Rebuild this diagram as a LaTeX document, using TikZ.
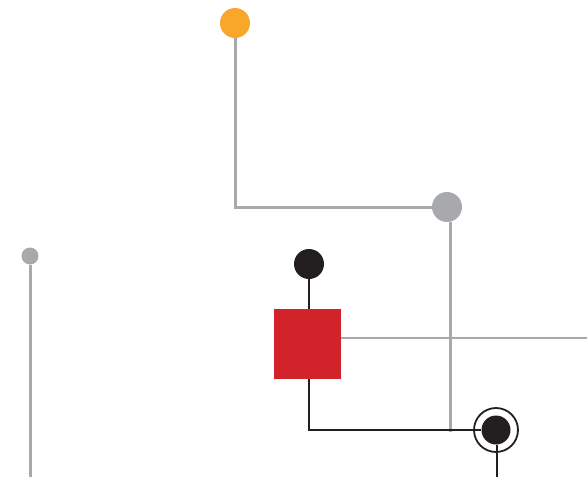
\documentclass[tikz,border=0pt]{standalone}
\usetikzlibrary{positioning}

\definecolor{pinorange}{HTML}{F9A72B}
\definecolor{pingray}{HTML}{A7A9AC}
\definecolor{pinblack}{HTML}{231F20}
\definecolor{pinred}{HTML}{D2232A}

\begin{document}
\begin{tikzpicture}[x=1pt, y=-1pt,
    dot/.style={circle, inner sep=0pt, minimum size=30pt},
    grayline/.style={pingray, line width=3pt},
    blackline/.style={pinblack, line width=2.8pt}]
  \useasboundingbox (0,0) rectangle (587,477);
  \node[dot, fill=pinorange] (orange) at (235,23) {};
  \node[dot, fill=pingray] (graydot) at (447,207) {};
  \node[dot, fill=pingray, minimum size=17pt] (smalldot) at (30,256) {};
  \node[dot, fill=pinblack] (blackdot) at (309,264) {};
  \node[rectangle, fill=pinred, inner sep=0pt, minimum width=67pt, minimum height=70pt] (square) at (307.5,344) {};
  \node[dot, fill=pinblack, minimum size=29pt] (ringdot) at (496,430) {};
  \node[circle, draw=pinblack, line width=1.8pt, inner sep=0pt, minimum size=44pt] (ring) at (ringdot) {};
  \coordinate (grayfoot) at (450,432);
  \coordinate (leftend) at (30,477);
  \coordinate (rightend) at (587,338);
  \coordinate (ringend) at (497,477);
  \draw[grayline] (orange) |- (graydot);
  \draw[grayline] (graydot.south -| grayfoot) -- (grayfoot);
  \draw[grayline] (smalldot) -- (leftend);
  \draw[pingray, line width=1.5pt] (square.east |- rightend) -- (rightend);
  \draw[blackline] (blackdot) -- (blackdot |- square.north);
  \draw[blackline] (blackdot |- square.south) |- (ringdot);
  \draw[blackline] (ringdot.south -| ringend) -- (ringend);
\end{tikzpicture}
\end{document}
